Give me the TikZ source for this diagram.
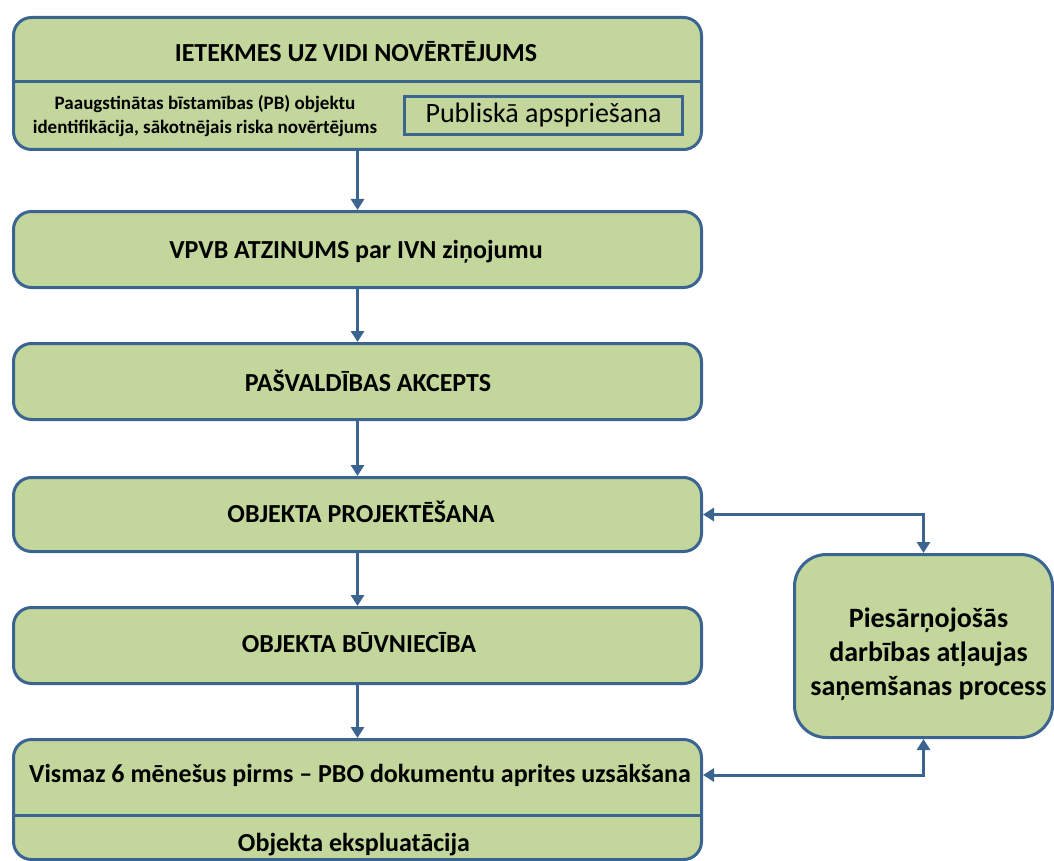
\documentclass[tikz,border=0pt]{standalone}
\usepackage{fontspec}
\setmainfont{Carlito}
\usetikzlibrary{arrows.meta}
\definecolor{boxfill}{HTML}{C3D69B}
\definecolor{boxline}{HTML}{3B6491}
\begin{document}
\begin{tikzpicture}[x=1pt,y=-1pt,
  box/.style={draw=boxline, fill=boxfill, line width=3pt, rounded corners=18pt, anchor=north west, inner sep=0pt},
  inbox/.style={draw=boxline, line width=3pt, anchor=north west, inner sep=0pt},
  divider/.style={draw=boxline, line width=3pt},
  lbl/.style={font=\bfseries\fontsize{26}{30}\selectfont, text=black, inner sep=0pt},
  small/.style={font=\bfseries\fontsize{19}{24}\selectfont, text=black, align=center, inner sep=0pt},
  plain/.style={font=\fontsize{28}{32}\selectfont, text=black, inner sep=0pt},
  side/.style={font=\bfseries\fontsize{28}{34}\selectfont, text=black, align=center, inner sep=0pt},
  conn/.style={draw=boxline, line width=3pt, -{Triangle[width=13pt,length=11pt]}},
  conn2/.style={draw=boxline, line width=3pt, {Triangle[width=13pt,length=11pt]}-{Triangle[width=13pt,length=11pt]}}]
\useasboundingbox (0,0) rectangle (1054,861);
% boxes
\node[box, minimum width=688pt, minimum height=132pt] (b1) at (12,16) {};
\node[box, minimum width=688pt, minimum height=76pt] (b2) at (12,210) {};
\node[box, minimum width=688pt, minimum height=76pt] (b3) at (12,342) {};
\node[box, minimum width=688pt, minimum height=74pt] (b4) at (12,476) {};
\node[box, minimum width=688pt, minimum height=76pt] (b5) at (12,606) {};
\node[box, minimum width=688pt, minimum height=120pt] (b6) at (12,738) {};
\node[box, rounded corners=32pt, minimum width=258pt, minimum height=183pt] (r) at (793,553) {};
% dividers
\draw[divider] (b1.west |- 0,82) -- (b1.east |- 0,82);
\draw[divider] (b6.west |- 0,815) -- (b6.east |- 0,815);
\node[inbox, minimum width=278pt, minimum height=38pt] (pub) at (403,95) {};
% texts
\node[lbl] (t1) at (356,52) {IETEKMES UZ VIDI NOVĒRTĒJUMS};
\node[small] (t1b) at (205,116) {Paaugstinātas bīstamības (PB) objektu\\identifikācija, sākotnējais riska novērtējums};
\node[plain] (tp) at (pub.center) {Publiskā apspriešana};
\node[lbl] (t2) at (356,252) {VPVB ATZINUMS par IVN ziņojumu};
\node[lbl] (t3) at (368,381) {PAŠVALDĪBAS AKCEPTS};
\node[lbl] (t4) at (361,512) {OBJEKTA PROJEKTĒŠANA};
\node[lbl] (t5) at (359,643) {OBJEKTA BŪVNIECĪBA};
\node[lbl] (t6) at (360,775) {Vismaz 6 mēnešus pirms – PBO dokumentu aprites uzsākšana};
\node[lbl] (t7) at (354,845) {Objekta ekspluatācija};
\node[side] (tr) at ([xshift=5pt,yshift=-8pt]r.center) {Piesārņojošās\\darbības atļaujas\\saņemšanas process};
% connectors
\draw[conn] (b1.south) -- (b2.north);
\draw[conn] (b2.south) -- (b3.north);
\draw[conn] (b3.south) -- (b4.north);
\draw[conn] (b4.south) -- (b5.north);
\draw[conn] (b5.south) -- (b6.north);
\coordinate (c6) at (b6.east |- 0,775);
\draw[conn2] (b4.east) -| (r.north);
\draw[conn2] (c6) -| (r.south);
\end{tikzpicture}
\end{document}
